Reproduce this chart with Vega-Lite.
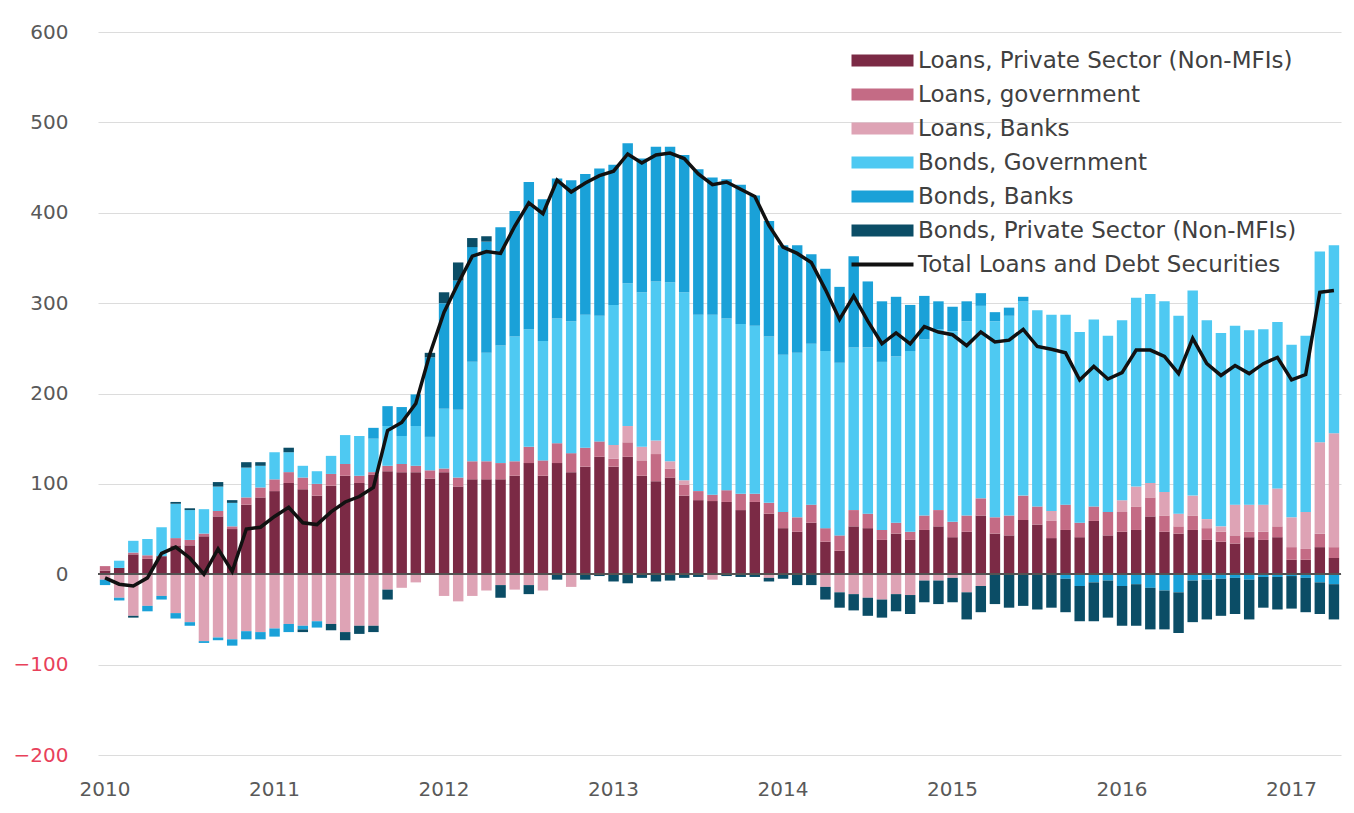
{
  "$schema": "https://vega.github.io/schema/vega-lite/v6.json",
  "autosize": {"type": "none"},
  "width": 1243,
  "height": 723,
  "padding": {"left": 98, "top": 32, "right": 13, "bottom": 58},
  "background": "white",
  "config": {
    "view": {"stroke": null},
    "font": "DejaVu Sans",
    "axis": {"labelFont": "DejaVu Sans", "labelFontSize": 20, "labelColor": "#595959", "domain": false, "ticks": false, "titleFontSize": 0},
    "legend": {"labelFont": "DejaVu Sans"}
  },
  "datasets": {
    "monthly": [
      {"m":"2010-01","s1":4,"s2":5,"s3":-6,"s4":0,"s5":-6,"s6":0,"t":-4},
      {"m":"2010-02","s1":7,"s2":0,"s3":-26,"s4":8,"s5":-3,"s6":0,"t":-11},
      {"m":"2010-03","s1":22,"s2":2,"s3":-46,"s4":13,"s5":0,"s6":-2,"t":-13},
      {"m":"2010-04","s1":17,"s2":4,"s3":-35,"s4":18,"s5":-6,"s6":0,"t":-4},
      {"m":"2010-05","s1":20,"s2":0,"s3":-24,"s4":32,"s5":-4,"s6":0,"t":23},
      {"m":"2010-06","s1":32,"s2":8,"s3":-43,"s4":38,"s5":-6,"s6":2,"t":30},
      {"m":"2010-07","s1":32,"s2":6,"s3":-53,"s4":33,"s5":-4,"s6":2,"t":18},
      {"m":"2010-08","s1":42,"s2":3,"s3":-74,"s4":27,"s5":-2,"s6":0,"t":0},
      {"m":"2010-09","s1":64,"s2":6,"s3":-70,"s4":27,"s5":-3,"s6":5,"t":28},
      {"m":"2010-10","s1":50,"s2":3,"s3":-72,"s4":26,"s5":-7,"s6":3,"t":3},
      {"m":"2010-11","s1":77,"s2":8,"s3":-63,"s4":33,"s5":-9,"s6":6,"t":50},
      {"m":"2010-12","s1":85,"s2":11,"s3":-64,"s4":24,"s5":-8,"s6":4,"t":52},
      {"m":"2011-01","s1":92,"s2":13,"s3":-60,"s4":30,"s5":-9,"s6":0,"t":64},
      {"m":"2011-02","s1":101,"s2":12,"s3":-55,"s4":22,"s5":-9,"s6":5,"t":74},
      {"m":"2011-03","s1":94,"s2":13,"s3":-57,"s4":13,"s5":-4,"s6":-3,"t":57},
      {"m":"2011-04","s1":87,"s2":13,"s3":-52,"s4":14,"s5":-7,"s6":0,"t":55},
      {"m":"2011-05","s1":98,"s2":13,"s3":-55,"s4":20,"s5":0,"s6":-7,"t":69},
      {"m":"2011-06","s1":109,"s2":13,"s3":-64,"s4":32,"s5":0,"s6":-9,"t":80},
      {"m":"2011-07","s1":101,"s2":8,"s3":-57,"s4":44,"s5":0,"s6":-9,"t":86},
      {"m":"2011-08","s1":110,"s2":3,"s3":-57,"s4":37,"s5":12,"s6":-7,"t":96},
      {"m":"2011-09","s1":114,"s2":6,"s3":-17,"s4":44,"s5":22,"s6":-11,"t":159},
      {"m":"2011-10","s1":113,"s2":9,"s3":-15,"s4":31,"s5":32,"s6":0,"t":168},
      {"m":"2011-11","s1":113,"s2":7,"s3":-9,"s4":44,"s5":35,"s6":0,"t":189},
      {"m":"2011-12","s1":106,"s2":9,"s3":0,"s4":37,"s5":88,"s6":5,"t":244},
      {"m":"2012-01","s1":113,"s2":4,"s3":-24,"s4":66,"s5":117,"s6":12,"t":290},
      {"m":"2012-02","s1":97,"s2":10,"s3":-30,"s4":75,"s5":143,"s6":20,"t":322},
      {"m":"2012-03","s1":105,"s2":20,"s3":-24,"s4":110,"s5":127,"s6":10,"t":352},
      {"m":"2012-04","s1":105,"s2":20,"s3":-18,"s4":120,"s5":123,"s6":6,"t":357},
      {"m":"2012-05","s1":105,"s2":18,"s3":-12,"s4":130,"s5":131,"s6":-14,"t":355},
      {"m":"2012-06","s1":109,"s2":16,"s3":-17,"s4":138,"s5":139,"s6":0,"t":385},
      {"m":"2012-07","s1":123,"s2":18,"s3":-12,"s4":130,"s5":163,"s6":-10,"t":411},
      {"m":"2012-08","s1":109,"s2":17,"s3":-18,"s4":132,"s5":157,"s6":0,"t":399},
      {"m":"2012-09","s1":123,"s2":22,"s3":0,"s4":138,"s5":155,"s6":-6,"t":436},
      {"m":"2012-10","s1":113,"s2":21,"s3":-14,"s4":146,"s5":156,"s6":0,"t":423},
      {"m":"2012-11","s1":119,"s2":21,"s3":0,"s4":147,"s5":156,"s6":-6,"t":433},
      {"m":"2012-12","s1":130,"s2":17,"s3":0,"s4":139,"s5":163,"s6":-2,"t":441},
      {"m":"2013-01","s1":119,"s2":9,"s3":15,"s4":155,"s5":155,"s6":-8,"t":446},
      {"m":"2013-02","s1":130,"s2":16,"s3":18,"s4":158,"s5":155,"s6":-10,"t":465},
      {"m":"2013-03","s1":109,"s2":17,"s3":15,"s4":171,"s5":148,"s6":-4,"t":455},
      {"m":"2013-04","s1":103,"s2":30,"s3":15,"s4":176,"s5":149,"s6":-8,"t":464},
      {"m":"2013-05","s1":107,"s2":10,"s3":8,"s4":198,"s5":150,"s6":-7,"t":466},
      {"m":"2013-06","s1":87,"s2":12,"s3":5,"s4":208,"s5":152,"s6":-4,"t":460},
      {"m":"2013-07","s1":82,"s2":10,"s3":0,"s4":195,"s5":161,"s6":-3,"t":443},
      {"m":"2013-08","s1":81,"s2":7,"s3":-6,"s4":199,"s5":152,"s6":0,"t":431},
      {"m":"2013-09","s1":80,"s2":13,"s3":0,"s4":190,"s5":154,"s6":-2,"t":434},
      {"m":"2013-10","s1":71,"s2":18,"s3":0,"s4":188,"s5":154,"s6":-3,"t":426},
      {"m":"2013-11","s1":80,"s2":9,"s3":0,"s4":186,"s5":144,"s6":-3,"t":418},
      {"m":"2013-12","s1":67,"s2":12,"s3":-4,"s4":184,"s5":128,"s6":-4,"t":386},
      {"m":"2014-01","s1":51,"s2":18,"s3":0,"s4":174,"s5":121,"s6":-5,"t":362},
      {"m":"2014-02","s1":47,"s2":16,"s3":0,"s4":182,"s5":119,"s6":-12,"t":355},
      {"m":"2014-03","s1":57,"s2":20,"s3":0,"s4":178,"s5":99,"s6":-12,"t":345},
      {"m":"2014-04","s1":36,"s2":15,"s3":-14,"s4":196,"s5":91,"s6":-14,"t":315},
      {"m":"2014-05","s1":26,"s2":17,"s3":-20,"s4":191,"s5":84,"s6":-17,"t":282},
      {"m":"2014-06","s1":53,"s2":18,"s3":-22,"s4":180,"s5":101,"s6":-18,"t":308},
      {"m":"2014-07","s1":51,"s2":16,"s3":-26,"s4":184,"s5":73,"s6":-20,"t":280},
      {"m":"2014-08","s1":38,"s2":11,"s3":-28,"s4":186,"s5":67,"s6":-20,"t":255},
      {"m":"2014-09","s1":45,"s2":12,"s3":-22,"s4":184,"s5":66,"s6":-19,"t":267},
      {"m":"2014-10","s1":38,"s2":9,"s3":-23,"s4":200,"s5":51,"s6":-21,"t":255},
      {"m":"2014-11","s1":49,"s2":16,"s3":-7,"s4":195,"s5":48,"s6":-24,"t":274},
      {"m":"2014-12","s1":53,"s2":18,"s3":-7,"s4":200,"s5":31,"s6":-26,"t":268},
      {"m":"2015-01","s1":41,"s2":17,"s3":-4,"s4":211,"s5":27,"s6":-27,"t":265},
      {"m":"2015-02","s1":47,"s2":18,"s3":-20,"s4":215,"s5":22,"s6":-30,"t":253},
      {"m":"2015-03","s1":65,"s2":19,"s3":-13,"s4":213,"s5":14,"s6":-29,"t":268},
      {"m":"2015-04","s1":45,"s2":18,"s3":0,"s4":217,"s5":10,"s6":-33,"t":257},
      {"m":"2015-05","s1":43,"s2":22,"s3":0,"s4":221,"s5":9,"s6":-37,"t":259},
      {"m":"2015-06","s1":60,"s2":27,"s3":0,"s4":215,"s5":5,"s6":-35,"t":271},
      {"m":"2015-07","s1":55,"s2":20,"s3":0,"s4":217,"s5":0,"s6":-39,"t":252},
      {"m":"2015-08","s1":40,"s2":19,"s3":11,"s4":217,"s5":0,"s6":-37,"t":249},
      {"m":"2015-09","s1":49,"s2":28,"s3":0,"s4":210,"s5":-5,"s6":-37,"t":245},
      {"m":"2015-10","s1":41,"s2":16,"s3":0,"s4":211,"s5":-13,"s6":-39,"t":215},
      {"m":"2015-11","s1":59,"s2":16,"s3":0,"s4":207,"s5":-9,"s6":-43,"t":230},
      {"m":"2015-12","s1":43,"s2":26,"s3":0,"s4":195,"s5":-7,"s6":-41,"t":216},
      {"m":"2016-01","s1":47,"s2":22,"s3":13,"s4":199,"s5":-13,"s6":-44,"t":223},
      {"m":"2016-02","s1":49,"s2":26,"s3":22,"s4":209,"s5":-11,"s6":-46,"t":248},
      {"m":"2016-03","s1":64,"s2":21,"s3":16,"s4":209,"s5":-15,"s6":-46,"t":248},
      {"m":"2016-04","s1":47,"s2":18,"s3":26,"s4":211,"s5":-18,"s6":-43,"t":241},
      {"m":"2016-05","s1":45,"s2":8,"s3":14,"s4":219,"s5":-20,"s6":-45,"t":222},
      {"m":"2016-06","s1":49,"s2":16,"s3":22,"s4":227,"s5":-7,"s6":-46,"t":261},
      {"m":"2016-07","s1":38,"s2":13,"s3":10,"s4":220,"s5":-6,"s6":-44,"t":233},
      {"m":"2016-08","s1":36,"s2":11,"s3":6,"s4":214,"s5":-5,"s6":-41,"t":220},
      {"m":"2016-09","s1":34,"s2":9,"s3":34,"s4":198,"s5":-4,"s6":-40,"t":231},
      {"m":"2016-10","s1":41,"s2":6,"s3":30,"s4":193,"s5":-6,"s6":-44,"t":222},
      {"m":"2016-11","s1":38,"s2":9,"s3":30,"s4":194,"s5":-3,"s6":-34,"t":233},
      {"m":"2016-12","s1":41,"s2":12,"s3":42,"s4":184,"s5":-3,"s6":-36,"t":240},
      {"m":"2017-01","s1":16,"s2":14,"s3":33,"s4":191,"s5":-2,"s6":-36,"t":215},
      {"m":"2017-02","s1":16,"s2":12,"s3":41,"s4":195,"s5":-4,"s6":-38,"t":221},
      {"m":"2017-03","s1":30,"s2":15,"s3":101,"s4":211,"s5":-9,"s6":-35,"t":312},
      {"m":"2017-04","s1":18,"s2":12,"s3":126,"s4":208,"s5":-11,"s6":-39,"t":314}
    ]
  },
  "data": {"name": "monthly"},
  "layer": [
    {
      "transform": [{"fold": ["s1","s2","s3","s4","s5","s6"], "as": ["series","value"]}],
      "mark": {"type": "bar"},
      "encoding": {
        "x": {
          "field": "m", "type": "ordinal", "title": null,
          "scale": {"type": "band", "paddingInner": 0.26, "paddingOuter": 0.13},
          "axis": {
            "labelAngle": 0, "labelOverlap": false, "labelPadding": 24,
            "labelExpr": "substring(datum.label,5,7)=='01' ? substring(datum.label,0,4) : ''"
          }
        },
        "y": {
          "field": "value", "type": "quantitative", "stack": "zero", "title": null,
          "scale": {"domain": [-200, 600], "nice": false},
          "axis": {
            "values": [-200,-100,0,100,200,300,400,500,600],
            "grid": true, "gridColor": "#dcdcdc", "gridWidth": 1.2,
            "labelPadding": 30,
            "labelColor": {"condition": {"test": "datum.value < 0", "value": "#e8415a"}, "value": "#595959"}
          }
        },
        "color": {
          "field": "series", "type": "nominal",
          "scale": {
            "domain": ["s1","s2","s3","s4","s5","s6","s7"],
            "range": ["#7b2a45","#c46b85","#dea3b5","#4ec9f2","#1aa1d8","#0b4d66","#111111"]
          },
          "legend": {
            "title": null, "orient": "none", "legendX": 752, "legendY": 17,
            "labelFontSize": 23, "labelColor": "#404040", "labelLimit": 600,
            "labelOffset": 45, "rowPadding": 10, "symbolSize": 400,
            "symbolType": "M-1,-0.6H5.2V0.6H-1Z",
            "labelExpr": "datum.label=='s1' ? 'Loans, Private Sector (Non-MFIs)' : datum.label=='s2' ? 'Loans, government' : datum.label=='s3' ? 'Loans, Banks' : datum.label=='s4' ? 'Bonds, Government' : datum.label=='s5' ? 'Bonds, Banks' : datum.label=='s6' ? 'Bonds, Private Sector (Non-MFIs)' : 'Total Loans and Debt Securities'",
            "encode": {
              "symbols": {
                "update": {
                  "shape": {"signal": "datum.value=='s7' ? 'M-1,-0.2H5.2V0.2H-1Z' : 'M-1,-0.6H5.2V0.6H-1Z'"},
                  "fill": {"scale": "color", "field": "value"},
                  "strokeWidth": {"value": 0},
                  "opacity": {"value": 1}
                }
              }
            }
          }
        },
        "order": {"field": "series", "sort": "ascending"}
      }
    },
    {
      "mark": {"type": "rule", "color": "#555555", "strokeWidth": 1.2},
      "encoding": {"y": {"datum": 0}}
    },
    {
      "mark": {"type": "line", "strokeWidth": 3.5, "strokeJoin": "miter"},
      "encoding": {
        "x": {"field": "m", "type": "ordinal"},
        "y": {"field": "t", "type": "quantitative"},
        "color": {"datum": "s7"}
      }
    }
  ]
}
